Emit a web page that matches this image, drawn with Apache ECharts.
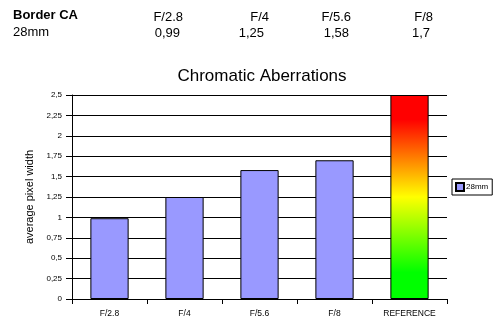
<!DOCTYPE html>
<html>
<head>
<meta charset="utf-8">
<script src="https://cdn.jsdelivr.net/npm/echarts@6/dist/echarts.min.js"></script>
<style>
html,body{margin:0;padding:0;background:#fff;}
#c{width:498px;height:332px;}
</style>
</head>
<body>
<div id="c"></div>
<script>
var tableTitle = 'Border CA';
var seriesName = '28mm';
var apertures = ['F/2.8', 'F/4', 'F/5.6', 'F/8'];
var values28 = [0.99, 1.25, 1.58, 1.7];
var referenceLabel = 'REFERENCE';
var referenceValue = 2.5;
var yTicks = [0, 0.25, 0.5, 0.75, 1, 1.25, 1.5, 1.75, 2, 2.25, 2.5];

function comma(v) { return String(v).replace('.', ','); }

var categories = apertures.concat([referenceLabel]);
var font = 'Arial, "Liberation Sans", sans-serif';

var headerRight = [183, 269, 351, 433];
var valueRight = [180, 264, 349, 430];

var graphics = [
  { type: 'text', left: 13, top: 9, style: { text: tableTitle, font: 'bold 13px ' + font, fill: '#000' } },
  { type: 'text', left: 13, top: 26, style: { text: seriesName, font: '13px ' + font, fill: '#000' } },
  { type: 'text', x: 262, y: 76, style: { text: 'Chromatic Aberrations', font: '17px ' + font, fill: '#000', textAlign: 'center', textVerticalAlign: 'middle' } }
];
apertures.forEach(function (a, i) {
  graphics.push({ type: 'text', x: headerRight[i], y: 17, style: { text: a, font: '13px ' + font, fill: '#000', textAlign: 'right', textVerticalAlign: 'middle' } });
  graphics.push({ type: 'text', x: valueRight[i], y: 33, style: { text: comma(values28[i]), font: '13px ' + font, fill: '#000', textAlign: 'right', textVerticalAlign: 'middle' } });
});

var barData = values28.map(function (v) { return v; });
barData.push({
  value: referenceValue,
  itemStyle: {
    color: new echarts.graphic.LinearGradient(0, 0, 0, 1, [
      { offset: 0, color: '#ff0000' },
      { offset: 0.12, color: '#ff0000' },
      { offset: 0.5, color: '#ffff00' },
      { offset: 0.87, color: '#00ff00' },
      { offset: 1, color: '#00ff00' }
    ])
  }
});

var chart = echarts.init(document.getElementById('c'), null, { renderer: 'canvas' });
chart.setOption({
  animation: false,
  backgroundColor: '#fff',
  textStyle: { fontFamily: font },
  graphic: graphics,
  grid: { left: 72, right: 51, top: 95, bottom: 33, containLabel: false },
  legend: {
    data: [seriesName],
    orient: 'vertical',
    left: 452, top: 179,
    borderColor: '#000', borderWidth: 1,
    padding: [3, 4, 3, 3],
    itemWidth: 8, itemHeight: 8, itemGap: 2,
    icon: 'rect',
    textStyle: { fontSize: 8, color: '#000', padding: [0, 0, 0, -3] }
  },
  xAxis: {
    type: 'category',
    data: categories,
    axisLine: { lineStyle: { color: '#000', width: 1 } },
    axisTick: { show: true, length: 5, lineStyle: { color: '#000' } },
    axisLabel: { fontSize: 8.5, color: '#000', margin: 10 }
  },
  yAxis: {
    type: 'value',
    min: 0, max: 2.5, interval: 0.25,
    name: 'average pixel width',
    nameLocation: 'middle',
    nameGap: 36,
    nameRotate: 90,
    nameTextStyle: { fontSize: 11, color: '#000' },
    axisLine: { show: true, lineStyle: { color: '#000', width: 1 } },
    axisTick: { show: true, length: 6, lineStyle: { color: '#000' } },
    axisLabel: { fontSize: 8, color: '#000', margin: 10, formatter: function (v) { return comma(v); } },
    splitLine: { show: true, lineStyle: { color: '#000', width: 1 } }
  },
  series: [{
    name: seriesName,
    type: 'bar',
    data: barData,
    barWidth: '51%',
    itemStyle: { color: '#9999ff', borderColor: '#000', borderWidth: 1 }
  }]
});
</script>
</body>
</html>
